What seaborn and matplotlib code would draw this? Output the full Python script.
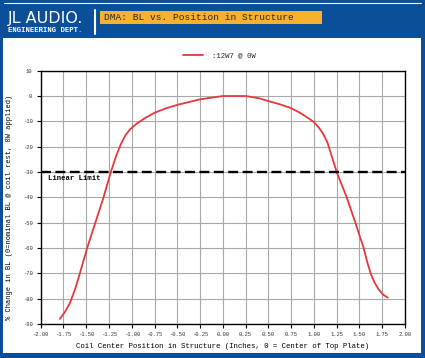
import numpy as np
import pandas as pd
import matplotlib
matplotlib.use("Agg")
import matplotlib.pyplot as plt
import seaborn as sns
from matplotlib.patches import Rectangle

# ---- data ----
position = [-1.79, -1.735, -1.68, -1.62, -1.57, -1.49, -1.40, -1.31, -1.23, -1.17, -1.12,
            -1.07, -1.02, -0.95, -0.85, -0.75, -0.62, -0.50, -0.25, 0.00, 0.25,
            0.40, 0.50, 0.62, 0.75, 0.85, 0.93, 1.00, 1.05, 1.10, 1.15, 1.25,
            1.36, 1.455, 1.546, 1.585, 1.625, 1.665, 1.71, 1.76, 1.81]
bl_change = [-88, -85.3, -81.8, -76, -70, -60, -50, -40, -30, -23.5, -19,
             -15.5, -13.2, -11, -8.6, -6.6, -4.8, -3.5, -1.3, 0.0, 0.0,
             -0.9, -2.0, -3.2, -4.8, -6.7, -8.5, -10.3, -12.3, -14.8, -18.5, -30,
             -40, -50, -60, -65.5, -70.2, -73.6, -76.3, -78.4, -79.6]
series_name = ":12W7 @ 0W"
linear_limit = -30
linear_limit_label = "Linear Limit"
x_ticks = [-2.00, -1.75, -1.50, -1.25, -1.00, -0.75, -0.50, -0.25, 0.00, 0.25,
           0.50, 0.75, 1.00, 1.25, 1.50, 1.75, 2.00]
y_ticks = [10, 0, -10, -20, -30, -40, -50, -60, -70, -80, -90]
title = "DMA: BL vs. Position in Structure"
x_label = "Coil Center Position in Structure (Inches, 0 = Center of Top Plate)"
y_label = "% Change in BL (0=nominal BL @ coil rest, 0W applied)"

df = pd.DataFrame({"pos": position, "bl": bl_change, "series": series_name})

sns.set_theme(style="white")
MONO = ["Liberation Mono", "DejaVu Sans Mono"]
plt.rcParams["font.family"] = ["DejaVu Sans"]

BLUE = "#0b4f98"
ORANGE = "#f7b12e"
RED = "#e8363c"

W, H = 425, 358
fig = plt.figure(figsize=(W / 100, H / 100), dpi=100)
fig.patch.set_facecolor(BLUE)

# white panel
fig.patches.append(Rectangle((3 / W, 1 - 353 / H), 418 / W, 315 / H,
                             transform=fig.transFigure, facecolor="white",
                             edgecolor="none", zorder=-5))
# thin white line at top
fig.add_artist(plt.Line2D([4 / W, 421 / W], [1 - 3 / H, 1 - 3 / H],
                          transform=fig.transFigure, color="white", lw=0.8))
# header logo text
fig.text(8 / W, 1 - 18.5 / H, "JL AUDIO.", color="white", fontsize=11.5,
         fontweight="normal", family="DejaVu Sans", va="center", ha="left")
fig.text(8 / W, 1 - 30 / H, "ENGINEERING DEPT.", color="white", fontsize=5.2,
         fontweight="bold", family=MONO, va="center", ha="left")
# vertical white bar
fig.add_artist(plt.Line2D([95 / W, 95 / W], [1 - 10 / H, 1 - 34 / H],
                          transform=fig.transFigure, color="white", lw=1.5))
# orange title box
fig.patches.append(Rectangle((100 / W, 1 - 24 / H), 222 / W, 13 / H,
                             transform=fig.transFigure, facecolor=ORANGE,
                             edgecolor="none", zorder=1))
fig.text(104 / W, 1 - 17.5 / H, title, color="#2a2a2a", fontsize=6.8,
         family=MONO, va="center", ha="left", zorder=2)

# ---- axes ----
ax = fig.add_axes([40.7 / W, 34 / H, 364.3 / W, 253.3 / H])
ax.set_zorder(3)
ax.set_facecolor("white")
sns.lineplot(data=df, x="pos", y="bl", hue="series", palette=[RED], ax=ax,
             linewidth=1.3, legend=True, sort=False)
ax.axhline(linear_limit, color="black", lw=1.7, dashes=(4.2, 1.9), zorder=3)
ax.text(-1.92, linear_limit - 1.0, linear_limit_label, fontsize=5.2,
        fontweight="bold", family=MONO, va="top", ha="left", color="black")

ax.set_xlim(-2.0, 2.0)
ax.set_ylim(-90, 10)
ax.set_xticks(x_ticks)
ax.set_xticklabels([f"{t:.2f}" for t in x_ticks], family=MONO, fontsize=4.0,
                   color="#333333")
ax.set_yticks(y_ticks)
ax.set_yticklabels([str(t) for t in y_ticks], family=MONO, fontsize=4.0,
                   color="#333333")
ax.grid(True, color="#a8a8a8", lw=0.8)
ax.set_axisbelow(True)
for s in ax.spines.values():
    s.set_color("black")
    s.set_linewidth(1.0)
ax.tick_params(axis="both", which="both", length=3, width=0.8, color="black",
               direction="out", pad=3, bottom=True, left=True)
ax.set_xlabel(x_label, family=MONO, fontsize=5.3, color="black", labelpad=4)
ax.set_ylabel(y_label, family=MONO, fontsize=5.0, color="black")
ax.yaxis.set_label_coords(-0.075, 0.46)

leg = ax.legend(loc="lower center", bbox_to_anchor=(0.49, 1.02), frameon=False,
                prop={"family": MONO, "size": 5.2}, handlelength=2.8,
                handletextpad=1.25)
for t in leg.get_texts():
    t.set_text(series_name)

fig.savefig("out.png", dpi=100, facecolor=BLUE)
